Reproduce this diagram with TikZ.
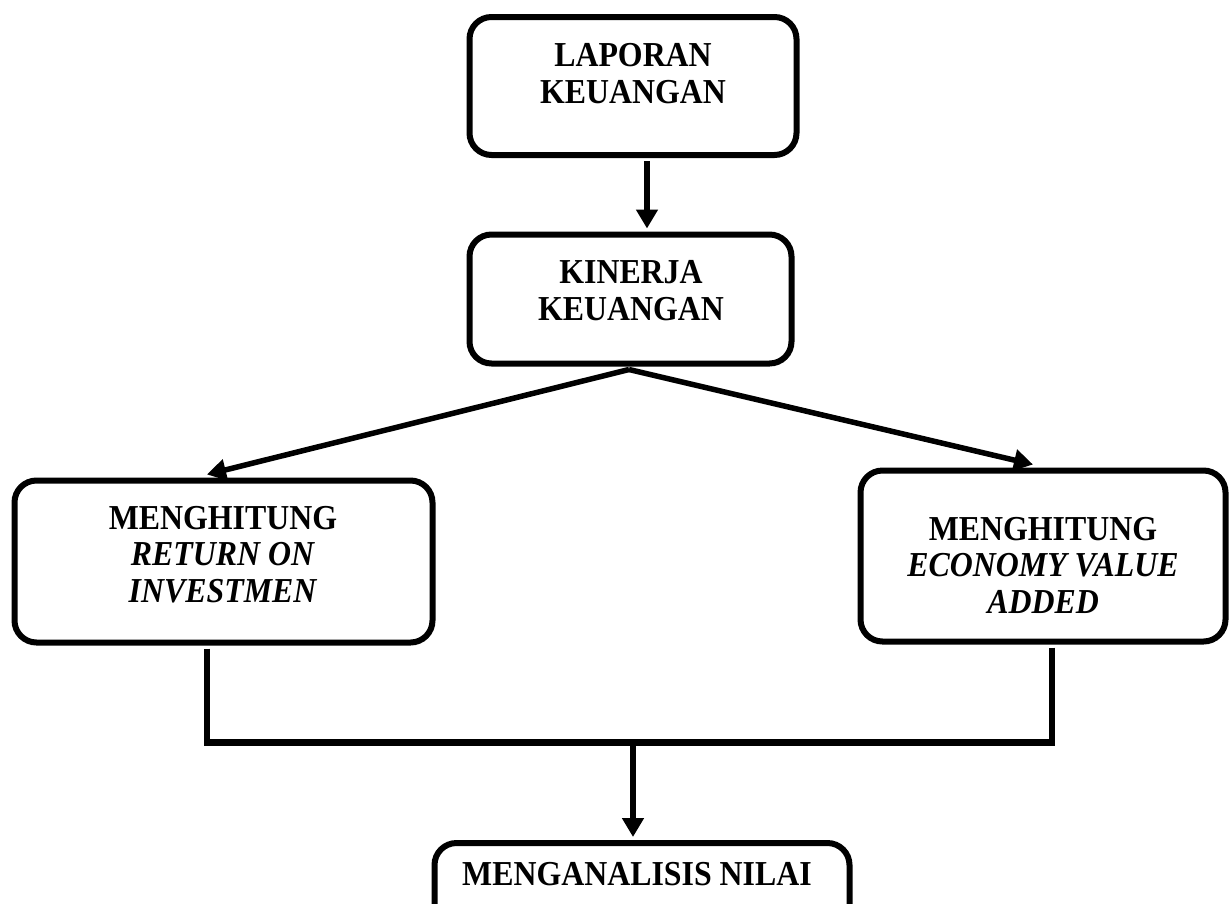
\documentclass[tikz,border=0pt]{standalone}
\usepackage{fontspec}
\setmainfont{Liberation Serif}[FakeStretch=0.91]
\usetikzlibrary{arrows.meta,calc}
\begin{document}
\begin{tikzpicture}[x=1pt,y=-1pt,
  box/.style={draw=black, line width=6pt, rounded corners=22pt, inner sep=0pt, fill=white},
  txt/.style={align=center, font=\fontsize{35}{36.5}\selectfont\bfseries, inner sep=0pt, anchor=base},
  conn/.style={line width=5.5pt},
  arr/.style={line width=5.5pt, -{Triangle[length=19pt,width=21pt]}}]
\useasboundingbox (0,0) rectangle (1230,903);
\clip (0,0) rectangle (1230,903);
\fill[white] (0,0) rectangle (1230,903);
% boxes
\node[box, minimum width=327pt, minimum height=138pt] (b1) at (633,86) {};
\node[box, minimum width=322pt, minimum height=129pt] (b2) at (630.5,299) {};
\node[box, minimum width=418pt, minimum height=162pt] (b3) at (223.5,561.5) {};
\node[box, minimum width=365pt, minimum height=171pt] (b4) at (1043,556) {};
\node[box, minimum width=415pt, minimum height=158pt] (b5) at (642,922) {};
% texts (base = baseline of last line)
\node[txt] (t1) at (633,103) {LAPORAN\\KEUANGAN};
\node[txt] (t2) at (631,320) {KINERJA\\KEUANGAN};
\node[txt] (t3) at (223,602) {MENGHITUNG\\\textit{RETURN ON}\\\textit{INVESTMEN}};
\node[txt] (t4) at (1043,613) {MENGHITUNG\\\textit{ECONOMY VALUE}\\\textit{ADDED}};
\node[txt] (t5) at (637,885) {MENGANALISIS NILAI};
% connectors
\draw[arr] ($(b1.south)+(14,3)$) -- ($(b2.north)+(16.5,-3)$);
\draw[arr] ($(b2.south)+(-1.5,3)$) -- ($(b3.north)+(-16.5,-3)$);
\draw[arr] ($(b2.south)+(-1.5,3)$) -- ($(b4.north)+(-10,-3)$);
\coordinate (jl) at ($(b3.south)+(-16.5,97)$);
\coordinate (jr) at ($(b4.south)+(9,98)$);
\draw[conn] ($(b3.south)+(-16.5,3)$) -- (jl);
\draw[conn] ($(b4.south)+(9,3)$) -- (jr);
\draw[line width=6.5pt] ($(jl)+(-2.75,0)$) -- ($(jr)+(2.75,0)$);
\draw[arr] ($(jl)+(426,0)$) -- ($(b5.north)+(-9,-3)$);
\end{tikzpicture}
\end{document}
